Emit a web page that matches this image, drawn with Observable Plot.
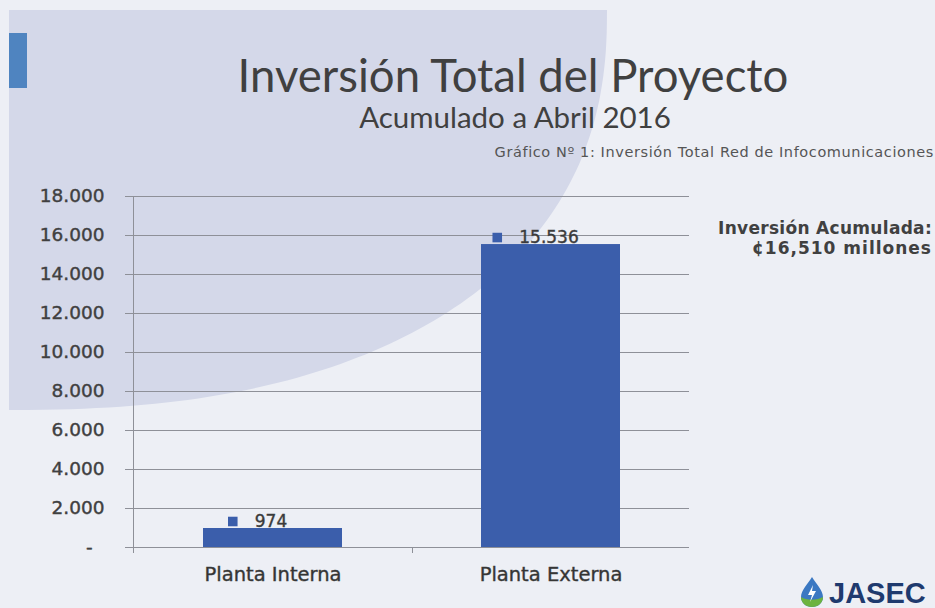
<!DOCTYPE html>
<html>
<head>
<meta charset="utf-8">
<script src="https://cdn.jsdelivr.net/npm/d3@7"></script>
<script src="https://cdn.jsdelivr.net/npm/@observablehq/plot@0.6"></script>
<style>
  html, body { margin: 0; padding: 0; }
  body { width: 935px; height: 608px; overflow: hidden; background: #edeff5; }
  #page { position: relative; width: 935px; height: 608px; background: #edeff5; overflow: hidden; }
  #bgshape { position: absolute; left: 0; top: 0; }
  #accent { position: absolute; left: 9px; top: 33px; width: 18px; height: 55px; background: #4f84c0; }
  .t { position: absolute; white-space: nowrap; color: #404040; }
  #title { left: 513px; top: 52px; transform: translateX(-50%); font-family: Lato, "Open Sans", sans-serif; font-size: 45.5px; line-height: 45.5px; }
  #subtitle { left: 515px; top: 102px; transform: translateX(-50%); font-family: Lato, "Open Sans", sans-serif; font-size: 29.5px; line-height: 29.5px; }
  #caption { right: 1px; top: 145px; font-family: "DejaVu Sans", sans-serif; font-size: 14.5px; line-height: 14.5px; letter-spacing: 0.6px; color: #555; }
  .sum { right: 3px; text-align: right; font-family: "DejaVu Sans", sans-serif; font-weight: 700; font-size: 17px; line-height: 17px; color: #404040; }
  #sum1 { letter-spacing: 0.3px; }
  #sum2 { letter-spacing: 1px; }
  #chart { position: absolute; left: 0; top: 170px; }
  #chart g[aria-label="y-axis tick label"] text,
  #chart g[aria-label="x-axis tick label"] text,
  #chart g[aria-label="text"] text { stroke: currentColor; stroke-width: 0.4px; }
  #logo { position: absolute; left: 798px; top: 576px; }
  #logotext { position: absolute; left: 829px; top: 579px; font-family: "Liberation Sans", Arial, sans-serif; font-weight: 700; font-size: 29px; line-height: 29px; color: #1f3a6e; }
</style>
</head>
<body>
<div id="page">
  <svg id="bgshape" width="935" height="608"></svg>
  <div id="accent"></div>
  <div id="title" class="t"></div>
  <div id="subtitle" class="t"></div>
  <div id="caption" class="t"></div>
  <div id="sum1" class="t sum" style="top:220px"></div>
  <div id="sum2" class="t sum" style="top:240px"></div>
  <div id="chart"></div>
  <svg id="logo" width="28" height="32" viewBox="0 0 28 32">
    <path d="M14 1 C10 8 3 14 3 21 C3 27 8 31 14 31 C20 31 25 27 25 21 C25 14 18 8 14 1 Z" fill="#3b78c2"/>
    <path d="M3 21 C3 27 8 31 14 31 C20 31 25 27 25 21 C20 24 9 25 3 21 Z" fill="#6cb33f"/>
    <path d="M15 9 L10 19 L14 19 L12 26 L18 15 L14 15 Z" fill="#ffffff"/>
  </svg>
  <div id="logotext">JASEC</div>
</div>
<script>
// ---- data ----
const categories = ["Planta Interna", "Planta Externa"];
const values = [974, 15536];
const yTicks = [0, 2000, 4000, 6000, 8000, 10000, 12000, 14000, 16000, 18000];
const titleText = "Inversión Total del Proyecto";
const subtitleText = "Acumulado a Abril 2016";
const captionText = "Gráfico Nº 1: Inversión Total Red de Infocomunicaciones";
const summaryLines = ["Inversión Acumulada:", "¢16,510 millones"];

// ---- texts ----
document.getElementById("title").textContent = titleText;
document.getElementById("subtitle").textContent = subtitleText;
document.getElementById("caption").textContent = captionText;
document.getElementById("sum1").textContent = summaryLines[0];
document.getElementById("sum2").textContent = summaryLines[1];

// ---- decorative background shape (superellipse quadrant) ----
(function () {
  const cx = 9, cy = 10, a = 598, b = 400, n = 2.35;
  const pts = [];
  for (let i = 0; i <= 90; i++) {
    const t = (i / 90) * Math.PI / 2;
    const c = Math.cos(t), s = Math.sin(t);
    pts.push([cx + a * Math.pow(c, 2 / n), cy + b * Math.pow(s, 2 / n)]);
  }
  const d = `M${cx},${cy}L` + pts.map(p => p[0].toFixed(1) + "," + p[1].toFixed(1)).join("L") + "Z";
  document.getElementById("bgshape").innerHTML = `<path d="${d}" fill="#d4d8e9"/>`;
})();

// ---- chart ----
const data = categories.map((c, i) => ({ category: c, value: values[i] }));
const fmt = d => d === 0 ? "-\u2007" : d3.format(",")(d).replace(/,/g, ".");
const ctx = document.createElement("canvas").getContext("2d");
ctx.font = "17px 'DejaVu Sans'";
const labelWidth = d => ctx.measureText(fmt(d.value)).width;

const barColor = "#3b5eab";
const gridColor = "#8e9098";

const extraAxis = (index, scales, values, dimensions) => {
  try {
    const x = scales.x, y = scales.y;
    const g = d3.create("svg:g").attr("stroke", gridColor).attr("stroke-width", 1);
    const left = dimensions.marginLeft;
    g.append("line").attr("x1", left + 0.5).attr("x2", left + 0.5)
      .attr("y1", y(yTicks[yTicks.length - 1])).attr("y2", y(0) + 6);
    const bw = x.bandwidth();
    for (let i = 0; i < categories.length - 1; i++) {
      const bx = Math.round((x(categories[i]) + bw + x(categories[i + 1])) / 2) + 0.5;
      g.append("line").attr("x1", bx).attr("x2", bx).attr("y1", y(0)).attr("y2", y(0) + 6);
    }
    return g.node();
  } catch (e) { return null; }
};

const chart = Plot.plot({
  width: 935,
  height: 430,
  marginTop: 26,
  marginBottom: 53,
  marginLeft: 133,
  marginRight: 246,
  style: { background: "transparent", fontFamily: "'DejaVu Sans', sans-serif", fontSize: "18px", color: "#404040", overflow: "visible" },
  x: { domain: categories, paddingInner: 0.5, paddingOuter: 0.25, label: null },
  y: { domain: [0, 18000], label: null },
  marks: [
    Plot.gridY(yTicks, { stroke: gridColor, strokeOpacity: 1, strokeWidth: 1 }),
    Plot.axisY(yTicks, { tickSize: 8, tickPadding: 21, tickFormat: fmt, stroke: gridColor, strokeOpacity: 1, fontSize: 18.5, fill: "#404040", label: null }),
    Plot.axisX({ tickSize: 0, tickPadding: 20, fontSize: 19.5, fill: "#333333", label: null }),
    extraAxis,
    Plot.barY(data, { x: "category", y: "value", fill: barColor }),
    Plot.text(data, { x: "category", y: "value", text: d => fmt(d.value), dx: -2, dy: -7, lineAnchor: "middle", fontSize: 17, fill: "#3a3a3a" }),
    ...data.map(d => Plot.dot([d], { x: "category", y: "value", dx: -2 - labelWidth(d) / 2 - 22, dy: -7, symbol: "square", r: 5.4, fill: barColor, stroke: "none" }))
  ]
});
document.getElementById("chart").appendChild(chart);
</script>
</body>
</html>
